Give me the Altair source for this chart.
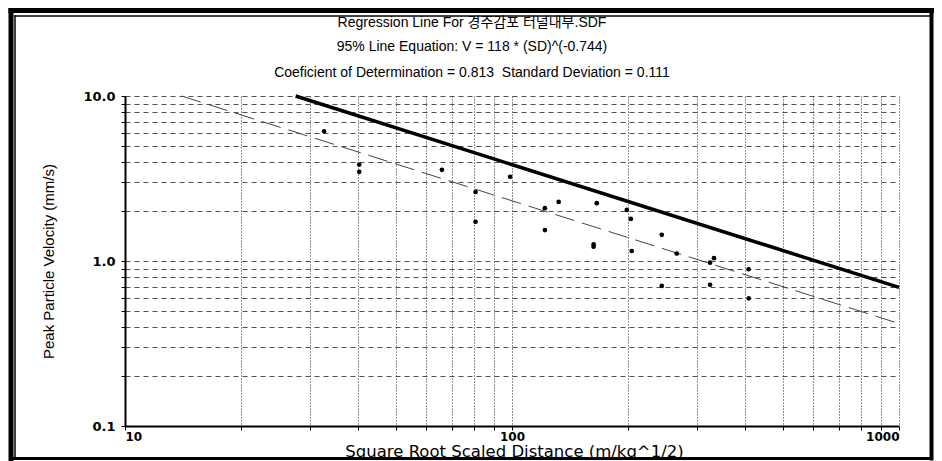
import altair as alt
import pandas as pd

# ---- data ----
sd = [32.7, 40.3, 40.3, 65.9, 80.5, 80.5, 98.9, 121.6, 132.0, 121.6, 165.6, 162.5, 162.5,
      198.0, 202.8, 203.9, 243.8, 266.5, 243.8, 332.6, 325.0, 408.5, 325.0, 409.0]
ppv = [6.11, 3.84, 3.47, 3.57, 2.62, 1.73, 3.24, 2.09, 2.28, 1.54, 2.24, 1.26, 1.22,
       2.04, 1.80, 1.15, 1.44, 1.11, 0.706, 1.04, 0.977, 0.891, 0.718, 0.594]

# 95% line V = 118 * SD^-0.744 (end points inside the plot)
line95_sd = [27.6, 1000]
line95_v = [10.0, 0.692]
# mean regression line (dashed)
mean_sd = [14.0, 1000]
mean_v = [10.0, 0.418]

x_ticks = [10, 20, 30, 40, 50, 60, 70, 80, 90, 100, 200, 300, 400, 500, 600, 700, 800, 900, 1000]
y_ticks = [0.1, 0.2, 0.3, 0.4, 0.5, 0.6, 0.7, 0.8, 0.9, 1, 2, 3, 4, 5, 6, 7, 8, 9, 10]

titles = ["Regression Line For 경주감포 터널내부.SDF",
          "95% Line Equation: V = 118 * (SD)^(-0.744)",
          "Coeficient of Determination = 0.813\u00a0 Standard Deviation = 0.111"]

pts = pd.DataFrame({"sd": sd, "ppv": ppv})
l95 = pd.DataFrame({"sd": line95_sd, "ppv": line95_v})
lmean = pd.DataFrame({"sd": mean_sd, "ppv": mean_v})

W, H = 774, 330
FONT = "Liberation Sans, Arial, Noto Sans CJK KR, sans-serif"

x_scale = alt.Scale(type="log", domain=[10, 1000], nice=False)
y_scale = alt.Scale(type="log", domain=[0.1, 10], nice=False)

x_axis = alt.Axis(
    values=x_ticks,
    labelExpr="indexof([10,100,1000], datum.value) >= 0 ? format(datum.value, 'd') : ''",
    labelOverlap=False, labelFont="DejaVu Sans", labelFontSize=12, labelFontWeight="bold",
    labelColor="black", labelPadding=1,
    grid=True, gridDash=[1, 2], gridColor="#111", gridWidth=1, gridOpacity=0.9,
    domainColor="black", domainWidth=2, tickColor="black", tickSize=4, tickWidth=1,
    title="Square Root Scaled Distance (m/kg^1/2)", titleFont="DejaVu Sans", titleFontSize=16.5,
    titleFontWeight="normal", titleColor="black",
    titleX=389, titleY=25.5, titleAlign="center", titleBaseline="middle", titleAnchor="middle",
)
y_axis = alt.Axis(
    values=y_ticks,
    labelExpr="indexof([0.1,1,10], datum.value) >= 0 ? format(datum.value, '.1f') : ''",
    labelOverlap=False, labelFont="DejaVu Sans", labelFontSize=13, labelFontWeight="bold",
    labelColor="black", labelPadding=6,
    grid=True, gridDash=[5, 4], gridColor="#333", gridWidth=1, gridOpacity=0.85,
    domainColor="black", domainWidth=2, tickColor="black", tickSize=4, tickWidth=1,
    title="Peak Particle Velocity (mm/s)", titleFont="Liberation Sans Narrow, Liberation Sans, Arial",
    titleFontSize=15, titleFontWeight="normal", titleColor="black",
    titleX=-77, titleY=165, titleAngle=270, titleAlign="center", titleBaseline="middle",
)

points = alt.Chart(pts).mark_point(filled=True, shape="circle", size=22, color="black", opacity=1).encode(
    x=alt.X("sd:Q", scale=x_scale, axis=x_axis),
    y=alt.Y("ppv:Q", scale=y_scale, axis=y_axis),
)
line95 = alt.Chart(l95).mark_line(color="black", strokeWidth=3.5).encode(
    x=alt.X("sd:Q", scale=x_scale, axis=x_axis),
    y=alt.Y("ppv:Q", scale=y_scale, axis=y_axis),
)
linemean = alt.Chart(lmean).mark_line(color="#444", strokeWidth=1, strokeDash=[20, 8]).encode(
    x=alt.X("sd:Q", scale=x_scale, axis=x_axis),
    y=alt.Y("ppv:Q", scale=y_scale, axis=y_axis),
)

one = pd.DataFrame({"k": [0]})


def frame(x1, x2, y1, y2, w):
    return alt.Chart(one).mark_rule(color="black", strokeWidth=w, strokeCap="square").encode(
        x=alt.value(x1), x2=alt.value(x2), y=alt.value(y1), y2=alt.value(y2))


R = 806.5
B = 362.5
frames = [
    frame(-114, -114, -85.5, B, 5),    # outer left
    frame(-114, R, -85.5, -85.5, 5),   # outer top
    frame(R, R, -85.5, B, 4),          # outer right
    frame(-114, R, B, B, 3),           # outer bottom
    frame(-110, -110, -80, B, 1.5),    # inner left
    frame(-110, R, -80, -80, 1.5),     # inner top
]

title_layers = []
for t, yy in zip(titles, [-73, -49, -23]):
    title_layers.append(
        alt.Chart(one).mark_text(text=t, font=FONT, fontSize=14, color="black",
                                 align="center", baseline="middle")
        .encode(x=alt.value(347), y=alt.value(yy))
    )

chart = alt.layer(linemean, line95, points, *frames, *title_layers).properties(
    width=W, height=H,
    autosize=alt.AutoSizeParams(type="none"),
    padding={"left": 117, "top": 88, "right": 35, "bottom": 35},
    background="white",
).configure_view(stroke=None)

chart.save("out.html", embed_options={"renderer": "svg", "actions": False})
